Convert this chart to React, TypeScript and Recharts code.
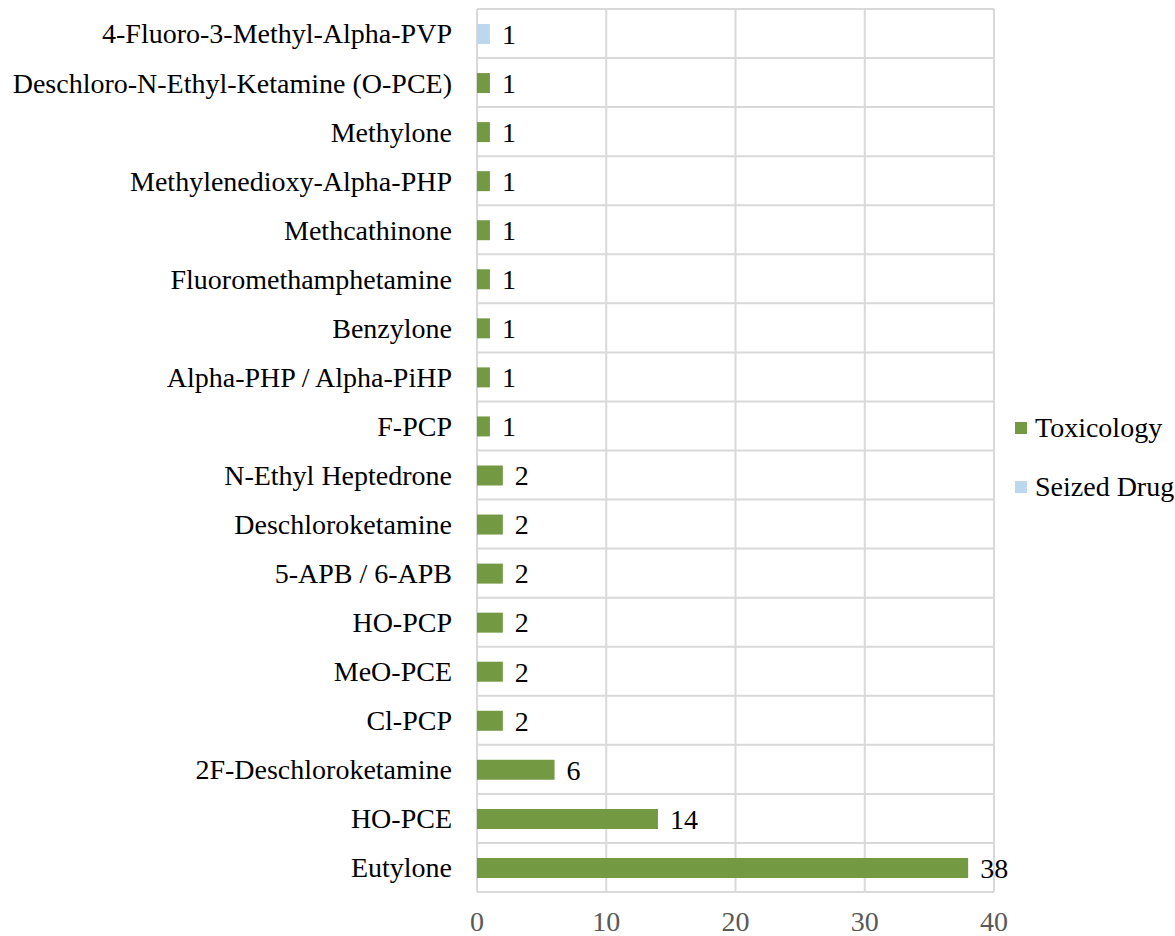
import { BarChart, Bar, XAxis, YAxis, CartesianGrid, Legend, LabelList } from 'recharts'

const SUBSTANCES = [
  '4-Fluoro-3-Methyl-Alpha-PVP',
  'Deschloro-N-Ethyl-Ketamine (O-PCE)',
  'Methylone',
  'Methylenedioxy-Alpha-PHP',
  'Methcathinone',
  'Fluoromethamphetamine',
  'Benzylone',
  'Alpha-PHP / Alpha-PiHP',
  'F-PCP',
  'N-Ethyl Heptedrone',
  'Deschloroketamine',
  '5-APB / 6-APB',
  'HO-PCP',
  'MeO-PCE',
  'Cl-PCP',
  '2F-Deschloroketamine',
  'HO-PCE',
  'Eutylone',
]
const TOXICOLOGY = [0, 1, 1, 1, 1, 1, 1, 1, 1, 2, 2, 2, 2, 2, 2, 6, 14, 38]
const SEIZED_DRUG = [1, 0, 0, 0, 0, 0, 0, 0, 0, 0, 0, 0, 0, 0, 0, 0, 0, 0]
const X_TICKS = [0, 10, 20, 30, 40]

const GREEN = '#739a43'
const BLUE = '#bdd7ee'
const FONT = "'Liberation Serif', 'DejaVu Serif', serif"

const data = SUBSTANCES.map((name, i) => ({
  name,
  toxicology: TOXICOLOGY[i],
  seized: SEIZED_DRUG[i],
}))

function ValueLabel(props: any) {
  const { x, y, width, height, value } = props
  if (!value) return null
  return (
    <text
      x={x + width + 12}
      y={y + height / 2}
      dy="0.35em"
      fontSize={28}
      style={{ fontFamily: FONT }}
      fill="#000"
    >
      {value}
    </text>
  )
}

function LegendBox() {
  const items = [
    { label: 'Toxicology', color: GREEN },
    { label: 'Seized Drug', color: BLUE },
  ]
  return (
    <div style={{ fontFamily: FONT, fontSize: 28, color: '#000' }}>
      {items.map((it) => (
        <div key={it.label} style={{ display: 'flex', alignItems: 'center', height: 59, whiteSpace: 'nowrap' }}>
          <span style={{ width: 12, height: 12, background: it.color, marginRight: 8, display: 'inline-block' }} />
          {it.label}
        </div>
      ))}
    </div>
  )
}

export default function App() {
  return (
    <div style={{ position: 'absolute', left: 0, top: 0, width: 1175, height: 936, overflow: 'hidden', background: '#fff', fontFamily: FONT }}>
      <BarChart
        width={1175}
        height={936}
        data={data}
        layout="vertical"
        barSize={20}
        margin={{ top: 9, right: 11, bottom: 0, left: 0 }}
      >
        <CartesianGrid
          stroke="#d9d9d9"
          strokeWidth={2}
          horizontalCoordinatesGenerator={({ offset }: any) =>
            Array.from({ length: SUBSTANCES.length + 1 }, (_, i) => offset.top + (i * offset.height) / SUBSTANCES.length)
          }
        />
        <XAxis
          type="number"
          domain={[0, 40]}
          ticks={X_TICKS}
          axisLine={false}
          tickLine={false}
          height={44}
          tickMargin={13}
          tick={{ fontSize: 28, style: { fontFamily: FONT }, fill: '#595959' }}
        />
        <YAxis
          type="category"
          dataKey="name"
          width={477}
          axisLine={false}
          tickLine={false}
          tickMargin={19}
          interval={0}
          tick={{ fontSize: 28, style: { fontFamily: FONT }, fill: '#000' }}
        />
        <Legend
          layout="vertical"
          align="right"
          verticalAlign="top"
          content={() => <LegendBox />}
          wrapperStyle={{ left: 1015, top: 398, width: 170 }}
        />
        <Bar dataKey="toxicology" name="Toxicology" stackId="a" fill={GREEN} isAnimationActive={false}>
          <LabelList dataKey="toxicology" content={ValueLabel} />
        </Bar>
        <Bar dataKey="seized" name="Seized Drug" stackId="a" fill={BLUE} isAnimationActive={false}>
          <LabelList dataKey="seized" content={ValueLabel} />
        </Bar>
      </BarChart>
    </div>
  )
}
